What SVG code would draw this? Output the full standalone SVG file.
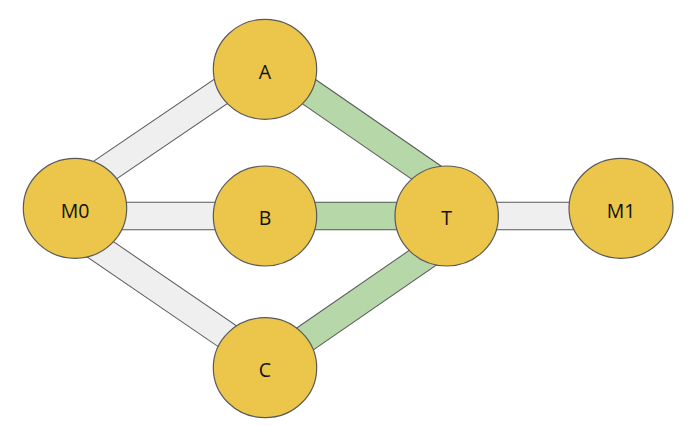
<svg xmlns="http://www.w3.org/2000/svg" width="690" height="426" viewBox="0 0 690 426">
<style>
.edge-o{stroke:#595959;stroke-width:28.5;stroke-linecap:butt;fill:none}
.gray{stroke:#efefef;stroke-width:26.5;stroke-linecap:butt;fill:none}
.green{stroke:#b6d7a8;stroke-width:26.5;stroke-linecap:butt;fill:none}
.node{fill:#ecc54b;stroke:#595959;stroke-width:1.2}
.lbl{font-family:"Open Sans","Noto Sans",sans-serif;font-size:19.5px;fill:#111;text-anchor:middle;dominant-baseline:central}
</style>
<rect width="690" height="426" fill="#fff"/>
<g id="connectors">
<g id="e-M0-A"><line class="edge-o" x1="75" y1="190.5" x2="265" y2="61.3"/><line class="gray" x1="75" y1="190.5" x2="265" y2="61.3"/></g>
<g id="e-A-T"><line class="edge-o" x1="265" y1="61.3" x2="447" y2="186.8"/><line class="green" x1="265" y1="61.3" x2="447" y2="186.8"/></g>
<g id="e-M0-B"><line class="edge-o" x1="75" y1="216" x2="265" y2="216"/><line class="gray" x1="75" y1="216" x2="265" y2="216"/></g>
<g id="e-B-T"><line class="edge-o" x1="265" y1="216" x2="447" y2="216"/><line class="green" x1="265" y1="216" x2="447" y2="216"/></g>
<g id="e-T-M1"><line class="edge-o" x1="447" y1="216" x2="621" y2="216"/><line class="gray" x1="447" y1="216" x2="621" y2="216"/></g>
<g id="e-M0-C"><line class="edge-o" x1="75" y1="232" x2="265" y2="362"/><line class="gray" x1="75" y1="232" x2="265" y2="362"/></g>
<g id="e-C-T"><line class="edge-o" x1="265" y1="366.6" x2="447" y2="241"/><line class="green" x1="265" y1="366.6" x2="447" y2="241"/></g>
</g>
<g id="node-M0"><ellipse class="node" cx="75" cy="208.3" rx="51.7" ry="50"/><text class="lbl" x="75" y="210">M0</text></g>
<g id="node-A"><ellipse class="node" cx="265" cy="69.3" rx="51.7" ry="50"/><text class="lbl" x="265" y="71">A</text></g>
<g id="node-B"><ellipse class="node" cx="265" cy="216" rx="51.7" ry="50"/><text class="lbl" x="265" y="217">B</text></g>
<g id="node-T"><ellipse class="node" cx="446.7" cy="216" rx="51.7" ry="50"/><text class="lbl" x="446.7" y="217">T</text></g>
<g id="node-M1"><ellipse class="node" cx="621" cy="208.3" rx="52" ry="50"/><text class="lbl" x="621" y="210">M1</text></g>
<g id="node-C"><ellipse class="node" cx="265" cy="367.7" rx="51.7" ry="50"/><text class="lbl" x="265" y="369">C</text></g>
</svg>
